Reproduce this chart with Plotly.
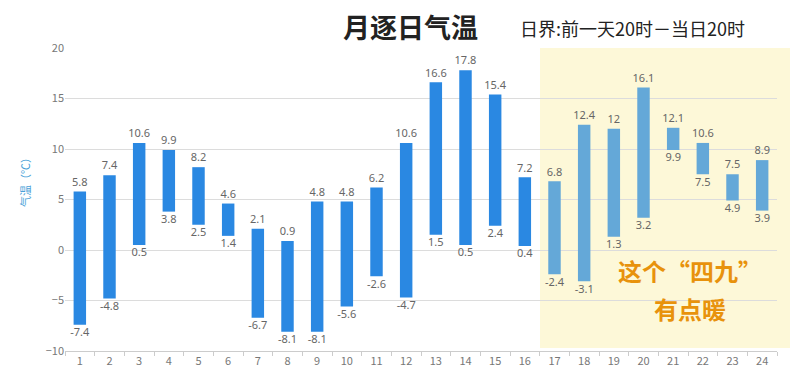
import plotly.graph_objects as go

days = [str(i) for i in range(1, 25)]
high = [5.8, 7.4, 10.6, 9.9, 8.2, 4.6, 2.1, 0.9, 4.8, 4.8, 6.2, 10.6,
        16.6, 17.8, 15.4, 7.2, 6.8, 12.4, 12, 16.1, 12.1, 10.6, 7.5, 8.9]
low = [-7.4, -4.8, 0.5, 3.8, 2.5, 1.4, -6.7, -8.1, -8.1, -5.6, -2.6, -4.7,
       1.5, 0.5, 2.4, 0.4, -2.4, -3.1, 1.3, 3.2, 9.9, 7.5, 4.9, 3.9]
y_ticks = [-10, -5, 0, 5, 10, 15, 20]

colors = ["#2a88e2"] * 16 + ["#64a8d8"] * 8
label_font = dict(family="Noto Sans, DejaVu Sans", size=11, color="#666666")

fig = go.Figure()
fig.add_trace(go.Bar(
    x=days, y=[h - l for h, l in zip(high, low)], base=low,
    marker=dict(color=colors, line=dict(width=0)), width=0.42,
    hoverinfo="skip", showlegend=False,
))
fig.add_trace(go.Scatter(
    x=days, y=[v + 0.3 for v in high], mode="text", text=[f"{v:g}" for v in high],
    textposition="top center", textfont=label_font, showlegend=False,
    cliponaxis=False, hoverinfo="skip",
))
fig.add_trace(go.Scatter(
    x=days, y=[v - 0.3 for v in low], mode="text",
    text=[f"{v:g}" for v in low],
    textposition="bottom center", textfont=label_font, showlegend=False,
    cliponaxis=False, hoverinfo="skip",
))

# page has an 8px body margin, so the figure is 8px smaller and offsets shift
W = 712
H = 303
fig.add_shape(type="rect", xref="paper", yref="paper",
              x0=(540 - 65) / W, x1=(790 - 65) / W, y0=3 / H, y1=1.0,
              fillcolor="#fdf8d8", line=dict(width=0), layer="below")

fig.update_layout(
    width=792, height=362,
    margin=dict(l=57, r=23, t=40, b=19),
    paper_bgcolor="white", plot_bgcolor="white",
    font=dict(family="Noto Sans CJK SC, Noto Sans", color="#666666"),
    xaxis=dict(type="category", range=[-0.5, 23.5],
               tickson="boundaries", ticks="outside",
               ticklen=4, tickcolor="#cccccc", showline=True,
               linecolor="#cccccc", showgrid=False, automargin=False,
               tickfont=dict(size=11, color="#777777")),
    yaxis=dict(range=[-10, 20], tickvals=y_ticks, showgrid=True,
               gridcolor="#dcdcdc", zeroline=False, ticks="",
               automargin=False,
               tickfont=dict(size=11, color="#777777")),
)

fig.add_annotation(text="气温（℃）", xref="paper", yref="paper",
                   x=(25 - 65) / W, y=(351 - 180) / H, showarrow=False,
                   textangle=-90,
                   font=dict(size=11, color="#4a9fd8"),
                   xanchor="center", yanchor="middle")
fig.add_annotation(text="<b>月逐日气温</b>", xref="paper", yref="paper",
                   x=(410 - 65) / W, y=1 + 22 / H, showarrow=False,
                   font=dict(size=27, color="#222222",
                             family="Noto Sans CJK SC"),
                   xanchor="center", yanchor="middle")
fig.add_annotation(text="日界:前一天20时－当日20时", xref="paper", yref="paper",
                   x=(518 - 65) / W, y=1 + 20 / H, showarrow=False,
                   font=dict(size=18, color="#222222",
                             family="Noto Sans CJK SC"),
                   xanchor="left", yanchor="middle")
fig.add_annotation(text="<b>这个“四九”</b>", xref="paper", yref="paper",
                   x=(690 - 65) / W, y=(351 - 270) / H, showarrow=False,
                   font=dict(size=24, color="#e8920c",
                             family="Noto Sans CJK SC"),
                   xanchor="center", yanchor="middle")
fig.add_annotation(text="<b>有点暖</b>", xref="paper", yref="paper",
                   x=(690 - 65) / W, y=(351 - 308) / H, showarrow=False,
                   font=dict(size=24, color="#e8920c",
                             family="Noto Sans CJK SC"),
                   xanchor="center", yanchor="middle")

fig.write_html("out.html")
